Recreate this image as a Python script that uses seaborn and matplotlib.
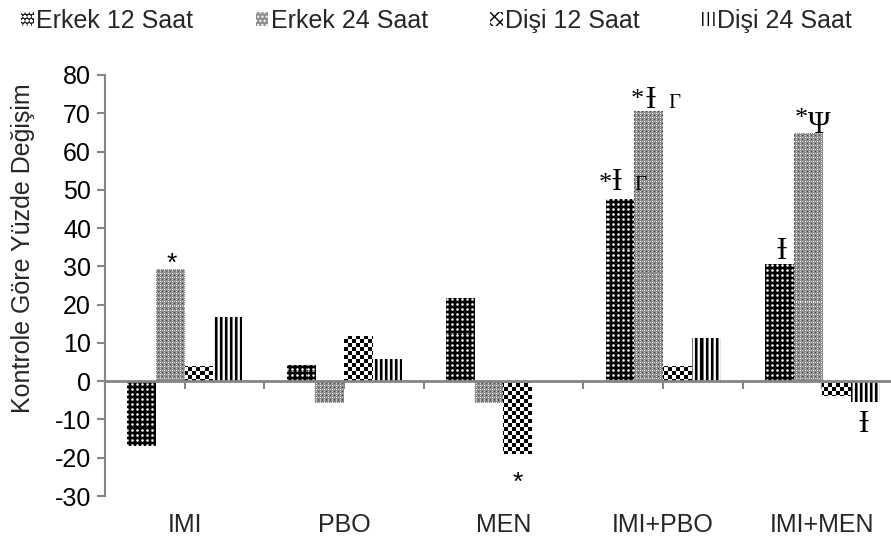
import numpy as np
import pandas as pd
import matplotlib
matplotlib.use("Agg")
import matplotlib.pyplot as plt
from matplotlib.patches import Patch
import seaborn as sns

# Gruplar ve seriler
gruplar = ["IMI", "PBO", "MEN", "IMI+PBO", "IMI+MEN"]
seriler = ["Erkek 12 Saat", "Erkek 24 Saat", "Dişi 12 Saat", "Dişi 24 Saat"]

# Kontrole göre yüzde değişim
erkek_12 = [-17.0, 4.3, 21.8, 47.7, 30.5]
erkek_24 = [29.4, -5.8, -5.8, 70.6, 64.8]
disi_12 = [3.9, 11.7, -19.0, 3.9, -3.9]
disi_24 = [16.7, 5.7, 0.0, 11.2, -5.5]

y_ticks = list(range(-30, 81, 10))
y_label = "Kontrole Göre Yüzde Değişim"

df = pd.DataFrame({
    "grup": gruplar * 4,
    "seri": [s for s in seriler for _ in gruplar],
    "deger": erkek_12 + erkek_24 + disi_12 + disi_24,
})


# Piksel düzeyinde dolgu dokuları (gri tonu 0 = siyah, 1 = beyaz)
def doku_erkek_12(X, Y):
    dx = X % 5 - 2
    dy = Y % 5 - 2
    r2 = dx * dx + dy * dy
    return np.select([r2 == 0, r2 == 1, r2 == 2], [1.0, 0.75, 0.3], 0.0)


def doku_erkek_24(X, Y):
    v = np.full(X.shape, 0.55)
    v[(X % 4 == 0) & (Y % 4 == 0)] = 1.0
    v[(X % 4 == 2) & (Y % 4 == 2)] = 0.25
    v[(X % 4 == 2) & (Y % 4 == 0)] = 0.8
    v[(X % 4 == 0) & (Y % 4 == 2)] = 0.8
    return v


def doku_disi_12(X, Y):
    return np.where(((X // 4) + (Y // 4)) % 2 == 0, 0.0, 1.0)


def doku_disi_24(X, Y):
    return np.array([0.0, 0.0, 0.45, 1.0, 0.9])[X % 5]


dokular = {
    "Erkek 12 Saat": doku_erkek_12,
    "Erkek 24 Saat": doku_erkek_24,
    "Dişi 12 Saat": doku_disi_12,
    "Dişi 24 Saat": doku_disi_24,
}

# Lejant kutucukları için tarama desenleri
lejant_stil = {
    "Erkek 12 Saat": dict(facecolor="#1a1a1a", edgecolor="#ffffff", hatch="oooo"),
    "Erkek 24 Saat": dict(facecolor="#8f8f8f", edgecolor="#ffffff", hatch="...."),
    "Dişi 12 Saat": dict(facecolor="#ffffff", edgecolor="#000000", hatch="xxx"),
    "Dişi 24 Saat": dict(facecolor="#ffffff", edgecolor="#000000", hatch="|||"),
}

# Anlamlılık işaretleri: (grup, seri, [(metin, dx_px, dy_px, boyut, yazı tipi), ...])
SERIF = ["Liberation Serif", "DejaVu Serif"]
SANS = ["Liberation Sans", "DejaVu Sans"]
isaretler = [
    ("IMI", "Erkek 24 Saat", [("*", 1, -2, 19, SANS)]),
    ("MEN", "Dişi 12 Saat", [("*", 0, -36, 19, SANS)]),
    ("IMI+PBO", "Erkek 12 Saat", [("*", -15, 9, 19, SERIF), ("Ɨ", -3, 9, 22, SERIF), ("Γ", 21, 9, 15, SERIF)]),
    ("IMI+PBO", "Erkek 24 Saat", [("*", -11, 5, 19, SERIF), ("Ɨ", 2, 3, 22, SERIF), ("Γ", 26, 3, 15, SERIF)]),
    ("IMI+MEN", "Erkek 12 Saat", [("Ɨ", 2, 5, 22, SERIF)]),
    ("IMI+MEN", "Erkek 24 Saat", [("*", -7, 8, 19, SERIF), ("Ψ", 11, 0, 22, SERIF)]),
    ("IMI+MEN", "Dişi 24 Saat", [("Ɨ", -2, -30, 22, SERIF)]),
]

sns.set_theme(style="white")
plt.rcParams["font.family"] = SANS
plt.rcParams["axes.unicode_minus"] = False

GRI = "#868686"
fig = plt.figure(figsize=(8.91, 5.43), dpi=100)
ax = fig.add_axes([105 / 891, 47 / 543, 797 / 891, 421 / 543])

sns.barplot(data=df, x="grup", y="deger", hue="seri", order=gruplar,
            hue_order=seriler, width=0.72, ax=ax, legend=False,
            errorbar=None, saturation=1)

ax.set_xlim(-0.5, 4.5)
ax.set_ylim(-30, 80)

# Çubukları dokuyla doldur: her çubuğun üzerine kendi şekline kırpılmış bir desen
ters = ax.transData.inverted()
for seri, cont in zip(seriler, ax.containers):
    doku = dokular[seri]
    for bar in cont:
        bar.set_linewidth(0)
        h = bar.get_height()
        if h == 0:
            continue
        x0, x1 = bar.get_x(), bar.get_x() + bar.get_width()
        y0, y1 = sorted((bar.get_y(), bar.get_y() + h))
        (px0, py0), (px1, py1) = ax.transData.transform([(x0, y0), (x1, y1)])
        ix0, ix1 = int(np.floor(px0)), int(np.ceil(px1))
        iy0, iy1 = int(np.floor(py0)), int(np.ceil(py1))
        X, Y = np.meshgrid(np.arange(ix0, ix1), np.arange(iy1 - 1, iy0 - 1, -1))
        img = doku(X, Y)
        bar.set_facecolor(str(float(img.mean())))
        (dx0, dy0), (dx1, dy1) = ters.transform([(ix0, iy0), (ix1, iy1)])
        im = ax.imshow(img, extent=(dx0, dx1, dy0, dy1), origin="upper",
                       interpolation="nearest", aspect="auto", cmap="gray",
                       vmin=0, vmax=1, zorder=bar.get_zorder() + 0.1)
        im.set_clip_path(bar)

ax.set_xlim(-0.5, 4.5)
ax.set_ylim(-30, 80)
ax.set_yticks(y_ticks)
ax.set_axisbelow(True)
ax.set_xlabel("")
ax.set_ylabel(y_label, fontsize=18)
ax.yaxis.set_label_coords(-0.088, 0.589)

for s in ("top", "right"):
    ax.spines[s].set_visible(False)
ax.spines["left"].set_color(GRI)
ax.spines["left"].set_linewidth(1.5)
ax.spines["bottom"].set_position(("data", 0))
ax.spines["bottom"].set_color(GRI)
ax.spines["bottom"].set_linewidth(2)
ax.spines["bottom"].set_zorder(5)

ax.set_xticks(np.arange(-0.5, 4.51, 0.5))
ax.set_xticklabels([])
ax.tick_params(axis="x", bottom=True, length=6, width=1.5, color=GRI, direction="out")
ax.tick_params(axis="y", left=True, length=6, width=1.5, color=GRI,
               labelsize=18, labelcolor="black", pad=4)

sec = ax.secondary_xaxis("bottom")
sec.set_xticks(range(len(gruplar)), labels=gruplar)
sec.tick_params(length=0, labelsize=18, pad=12)
sec.spines["bottom"].set_visible(False)

# İşaretler
for grup, seri, parcalar in isaretler:
    bar = ax.containers[seriler.index(seri)][gruplar.index(grup)]
    deger = df.loc[(df.grup == grup) & (df.seri == seri), "deger"].iloc[0]
    x = bar.get_x() + bar.get_width() / 2
    for metin, dx, dy, boyut, aile in parcalar:
        ax.annotate(metin, xy=(x, deger), xytext=(dx * 0.72, dy * 0.72),
                    textcoords="offset points", ha="center", va="baseline",
                    fontsize=boyut, family=aile, color="black",
                    annotation_clip=False, zorder=6)

tutamaklar = [Patch(linewidth=0, **lejant_stil[s]) for s in seriler]
fig.legend(tutamaklar, seriler, loc="center", bbox_to_anchor=(0.49, 0.961),
           ncol=4, frameon=False, fontsize=18, handlelength=0.5,
           handleheight=0.5, handletextpad=0.1, columnspacing=2.5,
           borderaxespad=0)

fig.savefig("out.png", dpi=100)
